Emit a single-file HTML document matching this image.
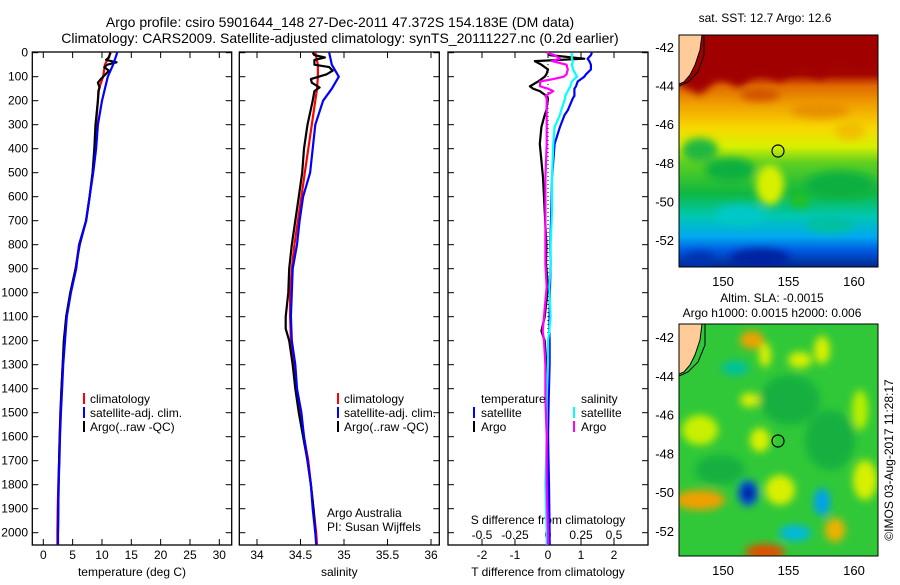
<!DOCTYPE html>
<html><head><meta charset="utf-8"><style>
body{margin:0;background:#fff;width:900px;height:580px;overflow:hidden}
svg text{font-family:"Liberation Sans",sans-serif;fill:#000}
</style></head><body>
<svg id="fig" width="900" height="580" xmlns="http://www.w3.org/2000/svg">
<defs>
<linearGradient id="sstg" x1="0" y1="0" x2="0" y2="1">
<stop offset="0" stop-color="#a00000"/><stop offset="0.17" stop-color="#a40400"/>
<stop offset="0.22" stop-color="#e06a00"/><stop offset="0.3" stop-color="#f0a000"/>
<stop offset="0.4" stop-color="#f8d800"/><stop offset="0.48" stop-color="#d8f000"/>
<stop offset="0.55" stop-color="#60d020"/><stop offset="0.68" stop-color="#10b840"/>
<stop offset="0.78" stop-color="#00c8b0"/><stop offset="0.87" stop-color="#00a8f0"/>
<stop offset="0.93" stop-color="#0058e0"/><stop offset="1" stop-color="#002890"/>
</linearGradient>
<filter id="blur" x="-20%" y="-20%" width="140%" height="140%"><feGaussianBlur stdDeviation="4"/></filter>
<clipPath id="c1"><rect x="679" y="35" width="199" height="232"/></clipPath>
<clipPath id="c2"><rect x="679" y="324" width="199" height="232"/></clipPath>
</defs>
<g id="titles">
<text x="340" y="27" font-size="14" text-anchor="middle">Argo profile: csiro 5901644_148 27-Dec-2011 47.372S 154.183E (DM data)</text>
<text x="340" y="43" font-size="14" text-anchor="middle">Climatology: CARS2009. Satellite-adjusted climatology: synTS_20111227.nc (0.2d earlier)</text>
</g>
<g id="axes"></g>
<g id="maps">
<g clip-path="url(#c1)">
<rect x="679" y="35" width="199" height="232" fill="url(#sstg)"/>
<g filter="url(#blur)">
<path d="M679 35 H878 V62 L860 70 L840 60 L820 80 L800 65 L780 82 L760 70 L740 88 L720 78 L700 95 L679 85Z" fill="#a00000"/>
<ellipse cx="760" cy="95" rx="20" ry="6" fill="#d05000"/>
<ellipse cx="820" cy="110" rx="30" ry="8" fill="#e89000"/>
<ellipse cx="850" cy="130" rx="15" ry="10" fill="#f0c000"/>
<ellipse cx="700" cy="150" rx="18" ry="12" fill="#20b840"/>
<ellipse cx="730" cy="170" rx="25" ry="12" fill="#10b040"/>
<ellipse cx="840" cy="185" rx="35" ry="14" fill="#10b040"/>
<ellipse cx="770" cy="185" rx="14" ry="20" fill="#d8f000"/>
<ellipse cx="800" cy="200" rx="10" ry="8" fill="#20c020"/>
<ellipse cx="740" cy="215" rx="25" ry="10" fill="#00c8c8"/>
<ellipse cx="830" cy="225" rx="25" ry="8" fill="#00c0a0"/>
<ellipse cx="760" cy="258" rx="30" ry="9" fill="#0020a0"/>
<ellipse cx="700" cy="260" rx="15" ry="8" fill="#0030b0"/>
</g>
<path d="M679 35 H702 L700 50 L695 65 L690 75 L684 82 L679 84Z" fill="#ffcc99" stroke="#000" stroke-width="1"/>
<path d="M704 35 L704 55 L698 72 L688 82 L679 86" fill="none" stroke="#000" stroke-width="1"/>
<circle cx="778" cy="151" r="6" fill="none" stroke="#000" stroke-width="1.2"/>
</g>
<g clip-path="url(#c2)">
<rect x="679" y="324" width="199" height="232" fill="#30c838"/>
<g filter="url(#blur)">
<ellipse cx="790" cy="400" rx="30" ry="25" fill="#18b040"/>
<ellipse cx="830" cy="440" rx="25" ry="30" fill="#18b040"/>
<ellipse cx="720" cy="470" rx="25" ry="15" fill="#18b040"/>
<ellipse cx="752" cy="340" rx="12" ry="9" fill="#f0a000"/>
<ellipse cx="735" cy="368" rx="14" ry="7" fill="#00c0a0"/>
<ellipse cx="765" cy="355" rx="6" ry="12" fill="#e0f000"/>
<ellipse cx="800" cy="360" rx="12" ry="8" fill="#d8f000"/>
<ellipse cx="822" cy="350" rx="8" ry="14" fill="#d8f000"/>
<ellipse cx="750" cy="400" rx="10" ry="7" fill="#d8f000"/>
<ellipse cx="860" cy="410" rx="8" ry="20" fill="#b8f000"/>
<ellipse cx="700" cy="430" rx="18" ry="15" fill="#c8f000"/>
<ellipse cx="760" cy="440" rx="10" ry="12" fill="#d8f000"/>
<ellipse cx="700" cy="500" rx="25" ry="10" fill="#f0a000"/>
<ellipse cx="780" cy="490" rx="15" ry="15" fill="#d8f000"/>
<ellipse cx="748" cy="493" rx="10" ry="13" fill="#0050e0"/>
<ellipse cx="748" cy="493" rx="5" ry="7" fill="#000090"/>
<ellipse cx="822" cy="502" rx="8" ry="14" fill="#00a0f0"/>
<ellipse cx="795" cy="533" rx="16" ry="8" fill="#00b8e0"/>
<ellipse cx="835" cy="530" rx="10" ry="12" fill="#f0b000"/>
<ellipse cx="765" cy="552" rx="20" ry="8" fill="#e05000"/>
<ellipse cx="865" cy="480" rx="12" ry="20" fill="#d8f000"/>
</g>
<path d="M679 324 H702 L700 340 L695 355 L690 365 L684 372 L679 374Z" fill="#ffcc99" stroke="#000" stroke-width="1"/>
<path d="M705 324 L705 345 L698 362 L688 372 L679 376" fill="none" stroke="#000" stroke-width="1"/>
<circle cx="778" cy="441" r="6" fill="none" stroke="#000" stroke-width="1.2"/>
</g>
<rect x="679" y="35" width="199" height="232" fill="none" stroke="#000"/>
<rect x="679" y="324" width="199" height="232" fill="none" stroke="#000"/>
<text x="765" y="22" font-size="12" text-anchor="middle">sat. SST: 12.7  Argo: 12.6</text>
<text x="772" y="302" font-size="12" text-anchor="middle">Altim. SLA: -0.0015</text>
<text x="772" y="317" font-size="12" text-anchor="middle">Argo h1000: 0.0015 h2000: 0.006</text>
<text transform="translate(893,460) rotate(-90)" font-size="12" text-anchor="middle">©IMOS 03-Aug-2017 11:28:17</text>
</g>
<g id="series"></g>
<g id="legends">
<g font-size="12">
<rect x="83" y="393" width="2" height="11" fill="#f00"/><text x="90" y="403" font-size="12">climatology</text>
<rect x="83" y="407" width="2" height="11" fill="#00f"/><text x="90" y="417" font-size="12">satellite-adj. clim.</text>
<rect x="83" y="421" width="2" height="11" fill="#000"/><text x="90" y="431" font-size="12">Argo(..raw -QC)</text>
</g>
<g>
<rect x="337" y="393" width="2" height="11" fill="#f00"/><text x="344" y="403" font-size="12">climatology</text>
<rect x="337" y="407" width="2" height="11" fill="#00f"/><text x="344" y="417" font-size="12">satellite-adj. clim.</text>
<rect x="337" y="421" width="2" height="11" fill="#000"/><text x="344" y="431" font-size="12">Argo(..raw -QC)</text>
<text x="327" y="517" font-size="12">Argo Australia</text>
<text x="327" y="531" font-size="12">PI: Susan Wijffels</text>
</g>
<g>
<text x="481" y="403" font-size="12">temperature</text>
<rect x="473" y="407" width="2" height="11" fill="#00f"/><text x="481" y="417" font-size="12">satellite</text>
<rect x="473" y="421" width="2" height="11" fill="#000"/><text x="481" y="431" font-size="12">Argo</text>
<text x="581" y="403" font-size="12">salinity</text>
<rect x="573" y="407" width="2" height="11" fill="#0ff"/><text x="581" y="417" font-size="12">satellite</text>
<rect x="573" y="421" width="2" height="11" fill="#f0f"/><text x="581" y="431" font-size="12">Argo</text>
</g>
</g>
</svg>
<script>
// ---- data ----
const depthTicks = [0,100,200,300,400,500,600,700,800,900,1000,1100,1200,1300,1400,1500,1600,1700,1800,1900,2000];
const tempTicks = [0,5,10,15,20,25,30];
const salTicks = [34,34.5,35,35.5,36];
const tdiffTicks = [-2,-1,0,1,2];
const sdiffTicks = [-0.5,-0.25,0,0.25,0.5];
const sdiffTickLabels = ['-0.5','-0.25','0','0.25','0.5'];
const depthsClim = [0,50,100,150,200,300,400,500,600,700,800,900,1000,1100,1200,1300,1400,1500,1600,1700,1800,1900,2000,2050];
const tempClim = [11.5,10.5,10.2,9.5,9.3,9.0,8.8,8.4,7.9,7.3,6.1,5.5,4.6,3.9,3.6,3.3,3.1,2.9,2.8,2.7,2.55,2.45,2.4,2.4];
const tempSat = [12.6,11.9,11.0,10.5,10.0,9.3,9.0,8.5,7.9,7.3,6.1,5.6,4.7,4.0,3.7,3.4,3.2,3.0,2.85,2.75,2.6,2.55,2.5,2.5];
const salClim = [34.67,34.70,34.70,34.69,34.67,34.63,34.59,34.55,34.51,34.47,34.43,34.40,34.38,34.38,34.39,34.42,34.45,34.50,34.54,34.59,34.62,34.65,34.68,34.69];
const salSat = [34.83,34.86,34.94,34.86,34.76,34.67,34.64,34.61,34.53,34.49,34.46,34.41,34.40,34.39,34.40,34.44,34.46,34.51,34.54,34.58,34.62,34.64,34.67,34.68];
const depthsArgo = [0,10,20,30,40,50,60,75,90,110,125,145,160,200,300,400,500,600,700,800,900,1000,1100,1150,1200,1300,1400,1500,1600,1700,1800,1900,2000];
const tempArgo = [11.4,11.3,11.2,10.7,12.5,10.9,10.4,11.2,10.6,9.8,9.3,9.6,9.4,9.3,8.9,8.7,8.4,7.9,7.3,6.2,5.5,4.6,3.9,3.7,3.5,3.3,3.1,2.95,2.8,2.7,2.6,2.55,2.5];
const salArgo = [34.64,34.66,34.78,34.66,34.66,34.66,34.83,34.87,34.80,34.62,34.63,34.72,34.66,34.64,34.58,34.54,34.52,34.48,34.44,34.40,34.37,34.36,34.33,34.33,34.37,34.41,34.44,34.48,34.53,34.58,34.62,34.65,34.67];
const depthsDiff = [0,10,25,35,50,70,90,100,110,120,140,150,160,180,190,240,260,310,380,520,660,800,880,975,1100,1160,1200,1300,1440,1600,1800,2000,2050];
const tdiffSat = [1.33,1.3,1.2,1.25,1.3,1.3,1.15,1.1,1.0,0.9,0.85,0.8,0.8,0.8,0.75,0.6,0.5,0.36,0.2,0.12,0.1,0.07,0.08,0.06,0.05,0.04,0.05,0.05,0.02,0.0,0.03,0.05,0.05];
const sdiffSat = [0.18,0.18,0.18,0.19,0.18,0.19,0.21,0.22,0.2,0.18,0.17,0.16,0.15,0.13,0.13,0.1,0.09,0.05,0.04,0.03,0.03,0.02,0.02,0.01,0.02,0.01,0.0,0.0,-0.01,-0.01,-0.02,-0.01,-0.01];
const tdiffArgo = [0.05,0.05,1.1,-0.4,-0.2,0.0,-0.05,-0.1,-0.2,-0.3,-0.55,-0.45,-0.25,-0.05,0.0,-0.05,-0.1,-0.2,-0.25,-0.15,-0.1,-0.05,-0.06,0.0,-0.1,-0.2,-0.1,-0.05,-0.05,0.0,0.0,0.03,0.05];
const sdiffArgo = [-0.01,0.05,0.09,0.03,0.14,0.15,0.14,0.12,0.04,-0.06,-0.06,0.0,0.04,-0.02,-0.01,-0.01,-0.01,-0.01,-0.01,-0.02,-0.02,-0.02,-0.02,-0.01,-0.03,-0.04,-0.03,-0.02,-0.02,-0.01,-0.01,0.0,0.0];
const mapLatTicks = [-42,-44,-46,-48,-50,-52];
const mapLonTicks = [150,155,160];
// ---- scales ----
const TOP=52, BOT=545;
const yD = d => 52.7 + 0.24*d;
const xT = t => 43.3 + 5.867*t;
const xS = s => 257 + 87*(s-34);
const xTD = t => 548 + 33*t;
const xSD = s => 548 + 132*s;
const NS='http://www.w3.org/2000/svg';
function mk(tag, attrs, parent, txt){
  const e=document.createElementNS(NS,tag);
  for(const k in attrs) e.setAttribute(k,attrs[k]);
  if(txt!==undefined) e.textContent=txt;
  parent.appendChild(e); return e;
}
const axes=document.getElementById('axes');
const series=document.getElementById('series');
const panels=[{x0:32.3,x1:231.7,name:'temperature-panel',ticks:tempTicks,fx:xT,lab:v=>String(v),title:'temperature (deg C)'},
{x0:239.3,x1:439.3,name:'salinity-panel',ticks:salTicks,fx:xS,lab:v=>String(v),title:'salinity'},
{x0:448,x1:648,name:'difference-panel',ticks:tdiffTicks,fx:xTD,lab:v=>String(v),title:'T difference from climatology'}];
panels.forEach(p=>{
  const g=mk('g',{},axes);
  
  
  const r=mk('rect',{x:p.x0,y:TOP,width:p.x1-p.x0,height:BOT-TOP,fill:'none',stroke:'#000','stroke-width':1.3},g);
  
  
  depthTicks.forEach(d=>{
    mk('line',{x1:p.x0,x2:p.x0+6,y1:yD(d),y2:yD(d),stroke:'#000'},g);
    mk('line',{x1:p.x1,x2:p.x1-6,y1:yD(d),y2:yD(d),stroke:'#000'},g);
  });
  p.ticks.forEach(v=>{
    const x=p.fx(v);
    mk('line',{x1:x,x2:x,y1:BOT,y2:BOT-6,stroke:'#000'},g);
    mk('line',{x1:x,x2:x,y1:TOP,y2:TOP+6,stroke:'#000'},g);
    const t=mk('text',{x:x,y:559,'font-size':12,'text-anchor':'middle'},g,p.lab(v));
    
    
  });
  const tt=mk('text',{x:(p.x0+p.x1)/2,y:576,'font-size':12,'text-anchor':'middle'},g,p.title);
  
  
});
depthTicks.forEach(d=>{
  const t=mk('text',{x:28,y:yD(d)+4,'font-size':12,'text-anchor':'end'},axes,String(d));
  
  
});
sdiffTicks.forEach((v,i)=>{
  const t=mk('text',{x:xSD(v),y:539,'font-size':12,'text-anchor':'middle'},axes,sdiffTickLabels[i]);
  
  
});
const sdt=mk('text',{x:548,y:524,'font-size':12,'text-anchor':'middle'},axes,'S difference from climatology');


const zl=mk('line',{x1:xTD(0),x2:xTD(0),y1:TOP,y2:BOT,stroke:'#000','stroke-dasharray':'1,3'},axes);


// map ticks
[[35,267],[324,556]].forEach(([y0,y1],mi)=>{
  const latY = mi===0 ? (l=>47+19.3*(-42-l)) : (l=>337+19.4*(-42-l));
  mapLatTicks.forEach(l=>{
    const y=latY(l);
    mk('line',{x1:679,x2:684,y1:y,y2:y,stroke:'#000'},axes);
    mk('line',{x1:878,x2:873,y1:y,y2:y,stroke:'#000'},axes);
    const t=mk('text',{x:674,y:y+5,'font-size':13,'text-anchor':'end'},axes,String(l));
    
    
  });
  mapLonTicks.forEach(l=>{
    const x=723+13.1*(l-150);
    mk('line',{x1:x,x2:x,y1:y1,y2:y1-5,stroke:'#000'},axes);
    mk('line',{x1:x,x2:x,y1:y0,y2:y0+5,stroke:'#000'},axes);
    const t=mk('text',{x:x,y:y1+19,'font-size':13,'text-anchor':'middle'},axes,String(l));
    
    
  });
});
function line(xs, ds, fx, color, name){
  const pts=[];
  for(let i=0;i<xs.length;i++){
    pts.push(fx(xs[i]).toFixed(1)+','+yD(ds[i]).toFixed(1));
  }
  const p=mk('polyline',{points:pts.join(' '),fill:'none',stroke:color,'stroke-width':2.2,'stroke-linejoin':'round'},series);
  
  
}
line(tempClim,depthsClim,xT,'#f00','temp-climatology-line');
line(tempArgo,depthsArgo,xT,'#000','temp-argo-line');
line(tempSat,depthsClim,xT,'#00f','temp-satellite-line');
line(salClim,depthsClim,xS,'#f00','sal-climatology-line');
line(salArgo,depthsArgo,xS,'#000','sal-argo-line');
line(salSat,depthsClim,xS,'#00f','sal-satellite-line');
line(tdiffArgo,depthsDiff,xTD,'#000','tdiff-argo-line');
line(tdiffSat,depthsDiff,xTD,'#00f','tdiff-satellite-line');
line(sdiffSat,depthsDiff,xSD,'#0ff','sdiff-satellite-line');
line(sdiffArgo,depthsDiff,xSD,'#f0f','sdiff-argo-line');
</script>
</body></html>
